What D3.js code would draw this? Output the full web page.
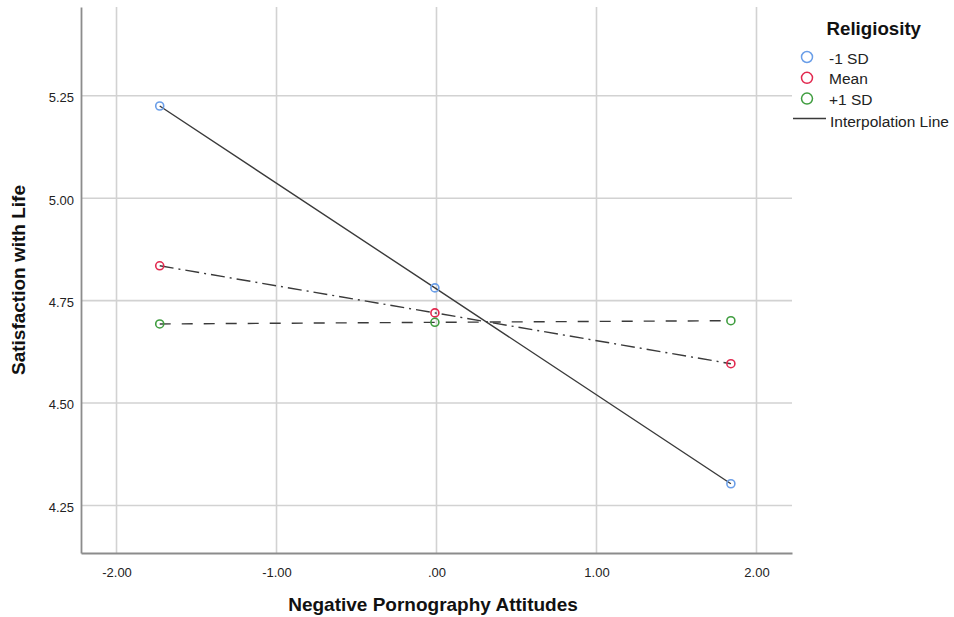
<!DOCTYPE html>
<html>
<head>
<meta charset="utf-8">
<script src="https://cdn.jsdelivr.net/npm/d3@7"></script>
<style>
  body { margin: 0; background: #fff; }
  svg { display: block; font-family: "Liberation Sans", Arial, sans-serif; }
</style>
</head>
<body>
<svg id="chart" width="954" height="617"></svg>
<script>
// Data
const xPoints = [-1.73, -0.01, 1.84];
const seriesNames = ["-1 SD", "Mean", "+1 SD"];
const lowReligiosity = [5.225, 4.781, 4.303];
const meanReligiosity = [4.835, 4.720, 4.596];
const highReligiosity = [4.693, 4.697, 4.701];
const xTicks = [-2, -1, 0, 1, 2];
const xTickLabels = ["-2.00", "-1.00", ".00", "1.00", "2.00"];
const yTicks = [4.25, 4.5, 4.75, 5.0, 5.25];
const yTickLabels = ["4.25", "4.50", "4.75", "5.00", "5.25"];

const series = [
    { name: seriesNames[0], values: lowReligiosity, color: "#6a9ee8", dash: null },
    { name: seriesNames[1], values: meanReligiosity, color: "#e2294f", dash: "14,5,2,5" },
    { name: seriesNames[2], values: highReligiosity, color: "#3f9d3f", dash: "11,11" },
];

const svg = d3.select("#chart");
const plot = { left: 81, right: 792, top: 7, bottom: 553 };

// Scales
const x = d3.scaleLinear().domain([-2.222, 2.222]).range([plot.left, plot.right]);
const y = d3.scaleLinear().domain([4.134, 5.4666]).range([plot.bottom, plot.top]);

// Gridlines
const grid = svg.append("g").attr("stroke", "#d2d2d2").attr("stroke-width", 1.6);
grid.selectAll(".gx").data(xTicks).enter().append("line")
    .attr("x1", d => x(d)).attr("x2", d => x(d))
    .attr("y1", plot.top).attr("y2", plot.bottom);
grid.selectAll(".gy").data(yTicks).enter().append("line")
    .attr("x1", plot.left).attr("x2", plot.right)
    .attr("y1", d => y(d)).attr("y2", d => y(d));

// Axes
const xAxis = svg.append("g")
    .attr("transform", `translate(0,${plot.bottom})`)
    .call(d3.axisBottom(x).tickValues(xTicks).tickSize(0).tickPadding(12)
        .tickFormat((d, i) => xTickLabels[i]));
const yAxis = svg.append("g")
    .attr("transform", `translate(${plot.left},0)`)
    .call(d3.axisLeft(y).tickValues(yTicks).tickSize(0).tickPadding(7)
        .tickFormat((d, i) => yTickLabels[i]));

[xAxis, yAxis].forEach(a => {
    a.select(".domain").attr("stroke", "#8c8c8c").attr("stroke-width", 1.8);
    a.selectAll("text")
        .attr("font-family", "'Liberation Sans', Arial, sans-serif")
        .attr("font-size", 13).attr("fill", "#222");
});
yAxis.selectAll("text").attr("dy", "0.45em");
xAxis.selectAll("text").attr("dy", "0.9em");

// Lines
const line = d3.line().x((d, i) => x(xPoints[i])).y(d => y(d));
series.forEach(s => {
    svg.append("path")
        .datum(s.values)
        .attr("d", line)
        .attr("fill", "none")
        .attr("stroke", "#3a3a3a")
        .attr("stroke-width", 1.4)
        .attr("stroke-dasharray", s.dash);
});

// Markers
series.forEach(s => {
    svg.append("g").selectAll("circle")
        .data(s.values).enter().append("circle")
        .attr("cx", (d, i) => x(xPoints[i]))
        .attr("cy", d => y(d))
        .attr("r", 4)
        .attr("fill", "none")
        .attr("stroke", s.color)
        .attr("stroke-width", 1.6);
});

// Axis titles
svg.append("text")
    .attr("x", 433).attr("y", 611)
    .attr("text-anchor", "middle")
    .attr("font-size", 19).attr("font-weight", "bold").attr("fill", "#111")
    .text("Negative Pornography Attitudes");
svg.append("text")
    .attr("transform", "translate(25,280) rotate(-90)")
    .attr("text-anchor", "middle")
    .attr("font-size", 19).attr("font-weight", "bold").attr("fill", "#111")
    .text("Satisfaction with Life");

// Legend
const legend = svg.append("g");
legend.append("text")
    .attr("x", 826.5).attr("y", 35)
    .attr("font-size", 18.7).attr("font-weight", "bold").attr("fill", "#111")
    .text("Religiosity");
series.forEach((s, i) => {
    const cy = 57 + i * 20.8;
    legend.append("circle")
        .attr("cx", 807).attr("cy", cy).attr("r", 5.5)
        .attr("fill", "none").attr("stroke", s.color).attr("stroke-width", 1.5);
    legend.append("text")
        .attr("x", 829).attr("y", cy + 6.5)
        .attr("font-size", 15.5).attr("fill", "#222")
        .text(s.name);
});
legend.append("line")
    .attr("x1", 793).attr("x2", 826).attr("y1", 118.5).attr("y2", 118.5)
    .attr("stroke", "#3a3a3a").attr("stroke-width", 1.4);
legend.append("text")
    .attr("x", 830).attr("y", 127)
    .attr("font-size", 15.5).attr("fill", "#222")
    .text("Interpolation Line");
</script>
</body>
</html>
